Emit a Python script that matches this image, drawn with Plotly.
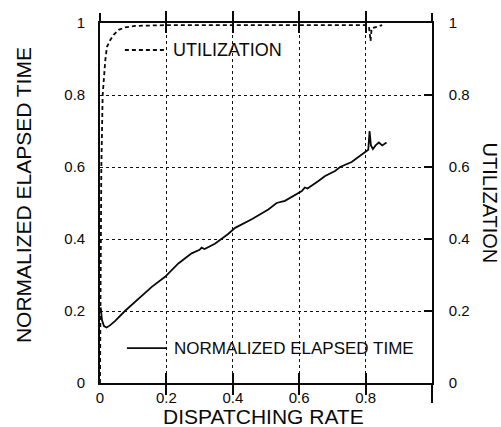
import plotly.graph_objects as go

# ---------------- data ----------------
util_rate = [0.0, 0.002, 0.004, 0.008, 0.012, 0.016, 0.021, 0.031, 0.041, 0.056,
             0.076, 0.106, 0.2, 0.3, 0.4, 0.5, 0.6, 0.7, 0.8, 0.81, 0.815, 0.818, 0.85]
util_value = [0.0, 0.3, 0.6, 0.8, 0.86, 0.897, 0.934, 0.953, 0.967, 0.981,
              0.988, 0.992, 0.994, 0.994, 0.994, 0.994, 0.994, 0.994, 0.994, 0.99, 0.95, 0.985, 0.994]

et_rate = [0.002, 0.006, 0.012, 0.02, 0.03, 0.045, 0.075, 0.115, 0.156, 0.196,
           0.236, 0.276, 0.3, 0.306, 0.315, 0.346, 0.386, 0.407, 0.457, 0.507,
           0.532, 0.557, 0.608, 0.617, 0.625, 0.658, 0.678, 0.708, 0.723, 0.758,
           0.788, 0.803, 0.808, 0.812, 0.816, 0.822, 0.83, 0.84, 0.85, 0.863]
et_value = [0.21, 0.175, 0.158, 0.154, 0.16, 0.172, 0.2, 0.232, 0.267, 0.295,
            0.332, 0.36, 0.37, 0.376, 0.372, 0.387, 0.414, 0.431, 0.455, 0.482,
            0.5, 0.506, 0.533, 0.543, 0.54, 0.561, 0.575, 0.589, 0.6, 0.614,
            0.633, 0.645, 0.648, 0.70, 0.66, 0.65, 0.66, 0.668, 0.66, 0.668]

x_ticks = [0, 0.2, 0.4, 0.6, 0.8]
x_ticktext = ["0", "0.2", "0.4", "0.6", "0.8"]
y_ticks = [0, 0.2, 0.4, 0.6, 0.8, 1]
y_ticktext = ["0", "0.2", "0.4", "0.6", "0.8", "1"]

FONT = "Liberation Sans, Arial, sans-serif"
INK = "#0a0a0a"

fig = go.Figure()

fig.add_trace(go.Scatter(x=et_rate, y=et_value, mode="lines", name="NORMALIZED ELAPSED TIME",
                         line=dict(color=INK, width=1.8), showlegend=False, yaxis="y"))
fig.add_trace(go.Scatter(x=util_rate, y=util_value, mode="lines", name="UTILIZATION",
                         line=dict(color=INK, width=1.8, dash="4px,3px"), showlegend=False, yaxis="y2"))
# empty helper traces so the extra tick-only axes get drawn
for ax in ["x2", "x3", "x4"]:
    fig.add_trace(go.Scatter(x=[None], y=[None], xaxis=ax, yaxis="y", showlegend=False,
                             hoverinfo="skip", mode="lines"))

tickfont = dict(family=FONT, size=15, color=INK)

fig.update_layout(
    width=501, height=427,
    margin=dict(l=100, r=69, t=23, b=44),
    paper_bgcolor="white", plot_bgcolor="white",
    font=dict(family=FONT, color=INK),
    xaxis=dict(range=[0, 1], tickvals=x_ticks, ticktext=x_ticktext, tickfont=tickfont,
               ticks="inside", ticklen=10, tickwidth=1.5, tickcolor=INK,
               showline=True, linewidth=1.6, linecolor=INK, mirror="allticks",
               showgrid=True, gridcolor="#111", gridwidth=1, griddash="dot",
               zeroline=False, ticklabelstandoff=0, automargin=False),
    xaxis2=dict(range=[0, 1], overlaying="x", side="top", anchor="y", tickvals=[0, 0.2, 0.4, 0.6, 0.8, 1],
                ticks="outside", ticklen=9, tickwidth=1.5, tickcolor=INK, showticklabels=False,
                showgrid=False, showline=False, zeroline=False, automargin=False),
    xaxis3=dict(range=[0, 1], overlaying="x", side="bottom", anchor="y", tickvals=[0.2, 0.4, 0.6, 0.8],
                ticks="outside", ticklen=5, tickwidth=1.5, tickcolor=INK, showticklabels=False,
                showgrid=False, showline=False, zeroline=False, automargin=False),
    xaxis4=dict(range=[0, 1], overlaying="x", side="bottom", anchor="y", tickvals=[1],
                ticks="outside", ticklen=19, tickwidth=1.5, tickcolor=INK, showticklabels=False,
                showgrid=False, showline=False, zeroline=False, automargin=False),
    yaxis=dict(range=[0, 1], tickvals=y_ticks, ticktext=y_ticktext, tickfont=tickfont,
               ticks="", showline=True, linewidth=1.6, linecolor=INK,
               showgrid=True, gridcolor="#111", gridwidth=1, griddash="dot", zeroline=False,
               ticklabelstandoff=10, automargin=False),
    yaxis2=dict(range=[0, 1], overlaying="y", side="right", anchor="x", tickvals=y_ticks, ticktext=y_ticktext,
                tickfont=tickfont, ticks="inside", ticklen=8, tickwidth=1.5, tickcolor=INK,
                showline=True, linewidth=1.6, linecolor=INK, showgrid=False, zeroline=False,
                ticklabelstandoff=12, automargin=False),
)

# white patches that interrupt the grid behind the legend labels
fig.add_shape(type="rect", xref="paper", yref="paper", x0=0.05, x1=0.55, y0=0.875, y1=0.972,
              fillcolor="white", line=dict(width=0), layer="between")
fig.add_shape(type="rect", xref="paper", yref="paper", x0=0.06, x1=0.96, y0=0.05, y1=0.156,
              fillcolor="white", line=dict(width=0), layer="between")
# legend samples
fig.add_shape(type="line", xref="paper", yref="paper", x0=0.075, x1=0.199, y0=0.925, y1=0.925,
              line=dict(color=INK, width=1.8, dash="4px,3px"))
fig.add_shape(type="line", xref="paper", yref="paper", x0=0.081, x1=0.202, y0=0.097, y1=0.097,
              line=dict(color=INK, width=1.8))
fig.add_annotation(text="UTILIZATION", xref="paper", yref="paper", x=0.213, y=0.925,
                   xanchor="left", yanchor="middle", showarrow=False,
                   font=dict(family=FONT, size=18, color=INK))
fig.add_annotation(text="NORMALIZED ELAPSED TIME", xref="paper", yref="paper", x=0.216, y=0.097,
                   xanchor="left", yanchor="middle", showarrow=False,
                   font=dict(family=FONT, size=17, color=INK))
# axis titles
fig.add_annotation(text="DISPATCHING RATE", xref="paper", yref="paper", x=0.4925, y=-0.094,
                   xanchor="center", yanchor="middle", showarrow=False,
                   font=dict(family=FONT, size=21, color=INK))
fig.add_annotation(text="NORMALIZED ELAPSED TIME", xref="paper", yref="paper", x=-0.232, y=0.522,
                   xanchor="center", yanchor="middle", textangle=-90, showarrow=False,
                   font=dict(family=FONT, size=21, color=INK))
fig.add_annotation(text="UTILIZATION", xref="paper", yref="paper", x=1.176, y=0.5,
                   xanchor="center", yanchor="middle", textangle=90, showarrow=False,
                   font=dict(family=FONT, size=20, color=INK))

fig.write_html("out.html")
